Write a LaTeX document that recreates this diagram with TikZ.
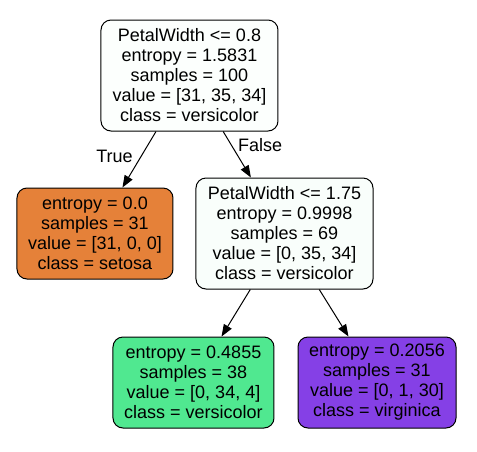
\documentclass[tikz,border=0pt]{standalone}
\usepackage{fontspec}
\setmainfont{Liberation Sans}
\usetikzlibrary{arrows.meta}
\definecolor{rootfill}{RGB}{252,255,253}
\definecolor{midfill}{RGB}{249,254,251}
\definecolor{setosafill}{RGB}{229,129,57}
\definecolor{versifill}{RGB}{80,232,144}
\definecolor{virgifill}{RGB}{133,64,230}
\begin{document}
\begin{tikzpicture}[>={Triangle[length=12pt, width=9pt]}, node distance=158pt,
    tree/.style={draw, line width=1pt, rectangle, rounded corners=10pt, align=center, inner sep=0pt, font=\fontsize{18}{20}\selectfont},
    split/.style={tree, minimum height=111pt},
    leaf/.style={tree, minimum height=91pt},
    branch/.style={inner sep=0pt, font=\fontsize{18}{20}\selectfont}]
    \useasboundingbox[fill=white] (-189.5pt,75.5pt) rectangle (287.5pt,-375.5pt);

    \node[split, minimum width=177pt, fill=rootfill] (root) {PetalWidth <= 0.8\\entropy = 1.5831\\samples = 100\\value = [31, 35, 34]\\class = versicolor};
    \node[leaf, minimum width=156pt, fill=setosafill, below of=root, xshift=-94.5pt] (setosa) {entropy = 0.0\\samples = 31\\value = [31, 0, 0]\\class = setosa};
    \node[split, minimum width=177pt, fill=midfill, below of=root, xshift=95pt] (mid) {PetalWidth <= 1.75\\entropy = 0.9998\\samples = 69\\value = [0, 35, 34]\\class = versicolor};
    \node[leaf, minimum width=161pt, fill=versifill, below of=mid, node distance=149pt, xshift=-91pt] (versicolor) {entropy = 0.4855\\samples = 38\\value = [0, 34, 4]\\class = versicolor};
    \node[leaf, minimum width=158pt, fill=virgifill, below of=mid, node distance=149pt, xshift=92.5pt] (virginica) {entropy = 0.2056\\samples = 31\\value = [0, 1, 30]\\class = virginica};

    \draw[->, line width=1pt] (root) -- node[branch, pos=.5, left=6pt, yshift=3pt] {True} (setosa);
    \draw[->, line width=1pt] (root) -- node[branch, pos=.446, right=2pt, yshift=7pt] {False} (mid);
    \draw[->, line width=1pt] (mid) -- (versicolor);
    \draw[->, line width=1pt] (mid) -- (virginica);
\end{tikzpicture}
\end{document}
